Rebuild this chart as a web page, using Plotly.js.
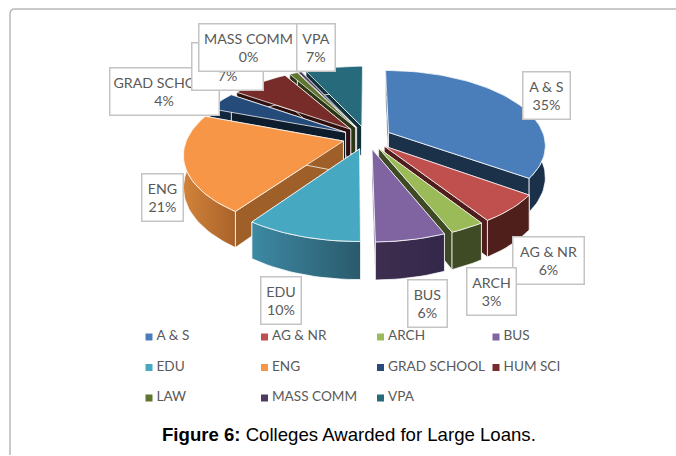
<!DOCTYPE html>
<html>
<head>
<meta charset="utf-8">
<script src="https://cdn.plot.ly/plotly-3.0.1.min.js"></script>
<style>html,body{margin:0;padding:0;background:#fff}#chart{width:676px;height:456px}</style>
</head>
<body>
<div id="chart"></div>
<script>
// --- data ---
var categories = ["A & S","AG & NR","ARCH","BUS","EDU","ENG","GRAD SCHOOL","HUM SCI","LAW","MASS COMM","VPA"];
var values = [35,6,3,6,10,21,4,7,1,0.4,7];

// --- styles ---
var topColors  = ["#4a7ebb","#c0504d","#9bbb59","#8064a2","#47a8c2","#f79646","#254b7a","#772c2a","#5f7530","#4d3b62","#276a7c"];
var wallFrom   = ["#1b3454","#4f1f1b","#3f4b24","#3e2e50","#3d89a3","#d2833a","#12263d","#2f1110","#2c3616","#241b30","#0f3038"];
var wallTo     = ["#1b3049","#4f1f1b","#3f4b24","#33284a","#2a5a6c","#a8622a","#12263d","#2f1110","#2c3616","#241b30","#0f3038"];
var sideColors = ["#1b3049","#4f1d1b","#3e4a24","#3a2b4a","#2f6a80","#9f5f28","#0e1d2e","#2d0f0e","#2c3616","#241b30","#0f3038"];

// --- data-label boxes: [centre x, centre y, width, height], painted in this order ---
var labelOrder = [0,1,2,3,4,5,6,7,9,10];
var labelBoxes = {0:[546,95,46,46],1:[548,260,70,46],2:[491,291,48,46],3:[427,303,38,46],4:[281,300,39,46],
                  5:[162,197,40,46],6:[164,91,108,46],7:[227,66,70,46],9:[248,47,98,46],10:[315.5,47,37,46]};

// --- pie geometry (perspective projection of an exploded pie) ---
var CX=367, CY=137.6, R=156, KY=73.5, P=0.162, EXPLODE=0.157, DEPTH=31, STEP=Math.PI/90;
function proj(X,Y,drop){
  var s=1/(1-P*Y);
  return [CX+R*X*s, CY+KY*Y*s+(drop?DEPTH*s:0)];
}
function polar(ax,ay,a,drop){ return proj(ax+Math.sin(a),ay-Math.cos(a),drop); }

var total=values.reduce(function(a,b){return a+b;},0);
var slices=[], cum=0;
values.forEach(function(v,i){
  var a0=cum/total*2*Math.PI; cum+=v; var a1=cum/total*2*Math.PI;
  var mid=(a0+a1)/2;
  slices.push({i:i,a0:a0,a1:a1,ax:EXPLODE*Math.sin(mid),ay:-EXPLODE*Math.cos(mid),depth:-Math.cos(mid)});
});
slices.sort(function(p,q){return p.depth-q.depth;});

function poly(pts,opt){
  var t={type:"scatter",mode:"lines",x:pts.map(function(p){return p[0];}),y:pts.map(function(p){return p[1];}),
    fill:"toself",hoverinfo:"skip",showlegend:false,line:opt.line||{width:0,color:"rgba(0,0,0,0)"}};
  if(opt.grad){t.fillgradient={type:"horizontal",colorscale:[[0,opt.grad[0]],[1,opt.grad[1]]]};}
  else{t.fillcolor=opt.fill;}
  return t;
}
function arc(s,drop){
  var pts=[],n=Math.max(2,Math.ceil((s.a1-s.a0)/STEP));
  for(var k=0;k<=n;k++){pts.push(polar(s.ax,s.ay,s.a0+(s.a1-s.a0)*k/n,drop));}
  return pts;
}
var edge={width:1,color:"rgba(255,255,255,0.75)"};
var traces=[];
slices.forEach(function(s){
  var apexT=proj(s.ax,s.ay,false), apexB=proj(s.ax,s.ay,true);
  var top=arc(s,false), bot=arc(s,true);
  var first=0,last=top.length-1;
  // radial walls
  traces.push(poly([apexT,top[first],bot[first],apexB,apexT],{fill:sideColors[s.i],line:edge}));
  traces.push(poly([apexT,top[last],bot[last],apexB,apexT],{fill:sideColors[s.i],line:edge}));
  // outer rim wall
  traces.push(poly(top.concat(bot.slice().reverse()).concat([top[0]]),{grad:[wallFrom[s.i],wallTo[s.i]],line:edge}));
  // top face
  traces.push(poly([apexT].concat(top).concat([apexT]),{fill:topColors[s.i],line:edge}));
});

// --- legend grid ---
var LEG_COLS=[149,264.5,380.5,496], LEG_ROWS=[337,367.5,398], LEG_GAP=7.5;
categories.forEach(function(c,i){
  var lx=LEG_COLS[i%4], ly=LEG_ROWS[Math.floor(i/4)];
  traces.push({type:"scatter",mode:"markers",name:c,x:[lx],y:[ly],
    marker:{symbol:"square",size:7,color:topColors[i]},hoverinfo:"skip",showlegend:false,cliponaxis:false});
  traces.push({type:"scatter",mode:"text",name:c,x:[lx+LEG_GAP],y:[ly],text:[c],textposition:"middle right",
    textfont:{family:"Lato, Carlito, sans-serif",size:13.6,color:"#595959"},
    hoverinfo:"skip",showlegend:false,cliponaxis:false});
});

// --- data labels ---
var annotations=labelOrder.map(function(i){
  var b=labelBoxes[i];
  return {xref:"x",yref:"y",x:b[0],y:b[1],width:b[2],height:b[3],xanchor:"center",yanchor:"middle",showarrow:false,
    text:categories[i]+"<br>"+Math.round(values[i]/total*100)+"%",align:"center",valign:"middle",
    font:{family:"Lato, Carlito, sans-serif",size:14.2,color:"#595959"},
    bgcolor:"#ffffff",bordercolor:"#c4c4c4",borderwidth:1.5,borderpad:0};
});
annotations.push({xref:"x",yref:"y",x:349,y:434,showarrow:false,xanchor:"center",yanchor:"middle",
  text:"<b>Figure 6:</b> Colleges Awarded for Large Loans.",
  font:{family:"Liberation Sans, Arial, sans-serif",size:18.6,color:"#000000"}});

var layout={width:676,height:456,margin:{l:0,r:0,t:0,b:0},paper_bgcolor:"#ffffff",plot_bgcolor:"#ffffff",showlegend:false,
  xaxis:{range:[0,676],visible:false,fixedrange:true},yaxis:{range:[456,0],visible:false,fixedrange:true},
  annotations:annotations,
  shapes:[{type:"path",xref:"x",yref:"y",path:"M 676 9 L 15 9 Q 10 9 10 14 L 10 455",line:{color:"#b8b8b8",width:1.5}}]};
Plotly.newPlot("chart",traces,layout,{displayModeBar:false,staticPlot:true});
</script>
</body>
</html>
